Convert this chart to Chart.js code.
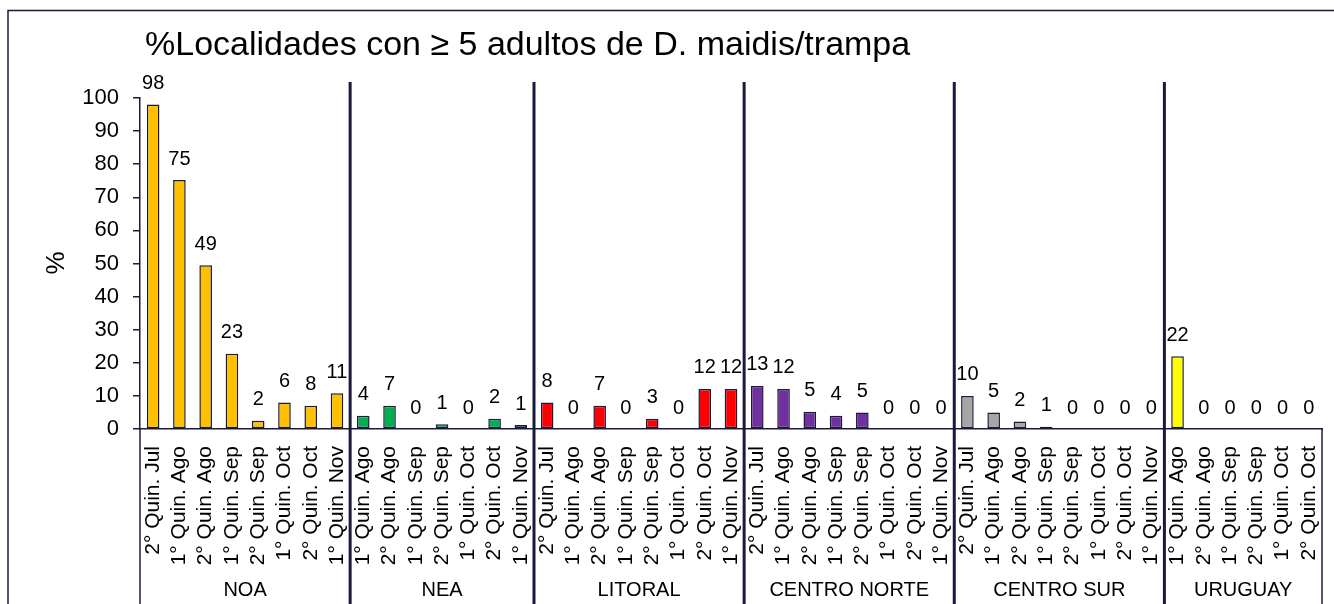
<!DOCTYPE html>
<html lang="es">
<head>
    <meta charset="UTF-8">
    <title>%Localidades con ≥ 5 adultos de D. maidis/trampa</title>
    <script src="https://cdn.jsdelivr.net/npm/chart.js"></script>
    <style>
        html, body { margin: 0; padding: 0; background: #fff; }
        #wrap { width: 1334px; height: 604px; }
    </style>
</head>
<body>
    <div id="wrap"><canvas id="grafico"></canvas></div>
    <script>
    // datos por región
    const regiones = ['NOA', 'NEA', 'LITORAL', 'CENTRO NORTE', 'CENTRO SUR', 'URUGUAY'];
    const colores = ['#FFC000', '#00B050', '#FF0000', '#7030A0', '#A6A6A6', '#FFFF00'];

    const catNOA = ['2° Quin. Jul', '1° Quin. Ago', '2° Quin. Ago', '1° Quin. Sep', '2° Quin. Sep', '1° Quin. Oct', '2° Quin. Oct', '1° Quin. Nov'];
    const catNEA = ['1° Quin. Ago', '2° Quin. Ago', '1° Quin. Sep', '2° Quin. Sep', '1° Quin. Oct', '2° Quin. Oct', '1° Quin. Nov'];
    const catLitoral = ['2° Quin. Jul', '1° Quin. Ago', '2° Quin. Ago', '1° Quin. Sep', '2° Quin. Sep', '1° Quin. Oct', '2° Quin. Oct', '1° Quin. Nov'];
    const catCentroNorte = ['2° Quin. Jul', '1° Quin. Ago', '2° Quin. Ago', '1° Quin. Sep', '2° Quin. Sep', '1° Quin. Oct', '2° Quin. Oct', '1° Quin. Nov'];
    const catCentroSur = ['2° Quin. Jul', '1° Quin. Ago', '2° Quin. Ago', '1° Quin. Sep', '2° Quin. Sep', '1° Quin. Oct', '2° Quin. Oct', '1° Quin. Nov'];
    const catUruguay = ['1° Quin. Ago', '2° Quin. Ago', '1° Quin. Sep', '2° Quin. Sep', '1° Quin. Oct', '2° Quin. Oct'];

    // altura de las barras
    const valNOA = [98, 75.2, 49.5, 22.7, 2.5, 8, 7, 10.8];
    const valNEA = [4, 7, 0, 1.4, 0, 3.1, 1.2];
    const valLitoral = [8, 0, 7, 0, 3.1, 0, 12.1, 12.1];
    const valCentroNorte = [13, 12.1, 5.2, 4, 5, 0, 0, 0];
    const valCentroSur = [10, 5, 2.3, 0.7, 0, 0, 0, 0];
    const valUruguay = [22, 0, 0, 0, 0, 0];

    // etiquetas de datos (tal como aparecen)
    const etqNOA = ['98', '75', '49', '23', '2', '6', '8', '11'];
    const etqNEA = ['4', '7', '0', '1', '0', '2', '1'];
    const etqLitoral = ['8', '0', '7', '0', '3', '0', '12', '12'];
    const etqCentroNorte = ['13', '12', '5', '4', '5', '0', '0', '0'];
    const etqCentroSur = ['10', '5', '2', '1', '0', '0', '0', '0'];
    const etqUruguay = ['22', '0', '0', '0', '0', '0'];

    const ticksY = [0, 10, 20, 30, 40, 50, 60, 70, 80, 90, 100];

    const cats = [catNOA, catNEA, catLitoral, catCentroNorte, catCentroSur, catUruguay];
    const vals = [valNOA, valNEA, valLitoral, valCentroNorte, valCentroSur, valUruguay];
    const etqs = [etqNOA, etqNEA, etqLitoral, etqCentroNorte, etqCentroSur, etqUruguay];

    const etiquetas = [], valores = [], textos = [], fondos = [], cortes = [];
    cats.forEach(function(c, g) {
        cortes.push(etiquetas.length);
        c.forEach(function(l, i) {
            etiquetas.push(l);
            valores.push(vals[g][i]);
            textos.push(etqs[g][i]);
            fondos.push(colores[g]);
        });
    });
    cortes.push(etiquetas.length);

    const azul = '#1c1a3c';
    const fuente = '"Liberation Sans", Arial, sans-serif';

    const extras = {
        id: 'extras',
        afterDraw: function(chart) {
            const ctx = chart.ctx;
            const x = chart.scales.x, area = chart.chartArea;
            ctx.save();
            // borde exterior
            ctx.strokeStyle = azul;
            ctx.lineWidth = 1.5;
            ctx.strokeRect(8, 10.5, 1400, 700);

            // titulo
            ctx.fillStyle = '#000';
            ctx.font = '34px ' + fuente;
            ctx.textAlign = 'left';
            ctx.textBaseline = 'alphabetic';
            ctx.fillText('%Localidades con ≥ 5 adultos de D. maidis/trampa', 145, 55);

            // titulo eje y
            ctx.save();
            ctx.translate(57, 263);
            ctx.rotate(-Math.PI / 2);
            ctx.font = '26px ' + fuente;
            ctx.textAlign = 'center';
            ctx.textBaseline = 'middle';
            ctx.fillText('%', 0, 0);
            ctx.restore();

            // etiquetas de datos
            const meta = chart.getDatasetMeta(0);
            ctx.font = '20px ' + fuente;
            ctx.textAlign = 'center';
            ctx.textBaseline = 'alphabetic';
            meta.data.forEach(function(bar, i) {
                ctx.fillText(textos[i], bar.x, bar.y - 15.5);
            });

            // bordes de la zona de categorias
            ctx.strokeStyle = azul;
            ctx.lineWidth = 1.5;
            ctx.beginPath();
            ctx.moveTo(area.left, area.bottom);
            ctx.lineTo(area.left, 604);
            ctx.moveTo(area.right, area.bottom);
            ctx.lineTo(area.right, 604);
            ctx.stroke();

            // separadores de regiones
            ctx.lineWidth = 3;
            for (let k = 1; k < cortes.length - 1; k++) {
                const i = cortes[k];
                const sx = (x.getPixelForValue(i - 1) + x.getPixelForValue(i)) / 2;
                ctx.beginPath();
                ctx.moveTo(sx, 82);
                ctx.lineTo(sx, 604);
                ctx.stroke();
            }

            // nombres de regiones
            ctx.fillStyle = '#000';
            ctx.font = '20px ' + fuente;
            ctx.textAlign = 'center';
            ctx.textBaseline = 'middle';
            regiones.forEach(function(r, g) {
                const a = x.getPixelForValue(cortes[g]);
                const b = x.getPixelForValue(cortes[g + 1] - 1);
                ctx.fillText(r, (a + b) / 2, 590);
            });
            ctx.restore();
        }
    };

    const ctx = document.getElementById('grafico').getContext('2d');
    const grafico = new Chart(ctx, {
        type: 'bar',
        data: {
            labels: etiquetas,
            datasets: [{
                data: valores,
                backgroundColor: fondos,
                borderColor: azul,
                borderWidth: 1.5,
                borderSkipped: false,
                categoryPercentage: 1,
                barPercentage: 0.48
            }]
        },
        options: {
            responsive: true,
            maintainAspectRatio: false,
            animation: false,
            layout: { padding: { top: 98, right: 12, left: 0, bottom: 0 } },
            plugins: {
                legend: { display: false },
                title: { display: false },
                tooltip: { enabled: false }
            },
            scales: {
                x: {
                    grid: { display: false },
                    border: { display: true, color: azul, width: 1.5 },
                    ticks: {
                        autoSkip: false,
                        minRotation: 90,
                        maxRotation: 90,
                        padding: 9,
                        color: '#000',
                        font: { family: fuente, size: 21 }
                    },
                    afterFit: function(scale) {
                        scale.height = 175;
                        scale.paddingLeft = 0;
                        scale.paddingRight = 0;
                    }
                },
                y: {
                    min: 0,
                    max: 100,
                    afterBuildTicks: function(scale) {
                        scale.ticks = ticksY.map(function(v) { return { value: v }; });
                    },
                    grid: {
                        drawOnChartArea: false,
                        drawTicks: true,
                        tickLength: 7,
                        color: azul,
                        lineWidth: 1.5
                    },
                    border: { display: true, color: azul, width: 1.5 },
                    ticks: {
                        padding: 14,
                        color: '#000',
                        font: { family: fuente, size: 22 }
                    },
                    afterFit: function(scale) {
                        scale.width = 140;
                        scale.paddingTop = 0;
                        scale.paddingBottom = 0;
                    }
                }
            }
        },
        plugins: [extras]
    });
    </script>
</body>
</html>
